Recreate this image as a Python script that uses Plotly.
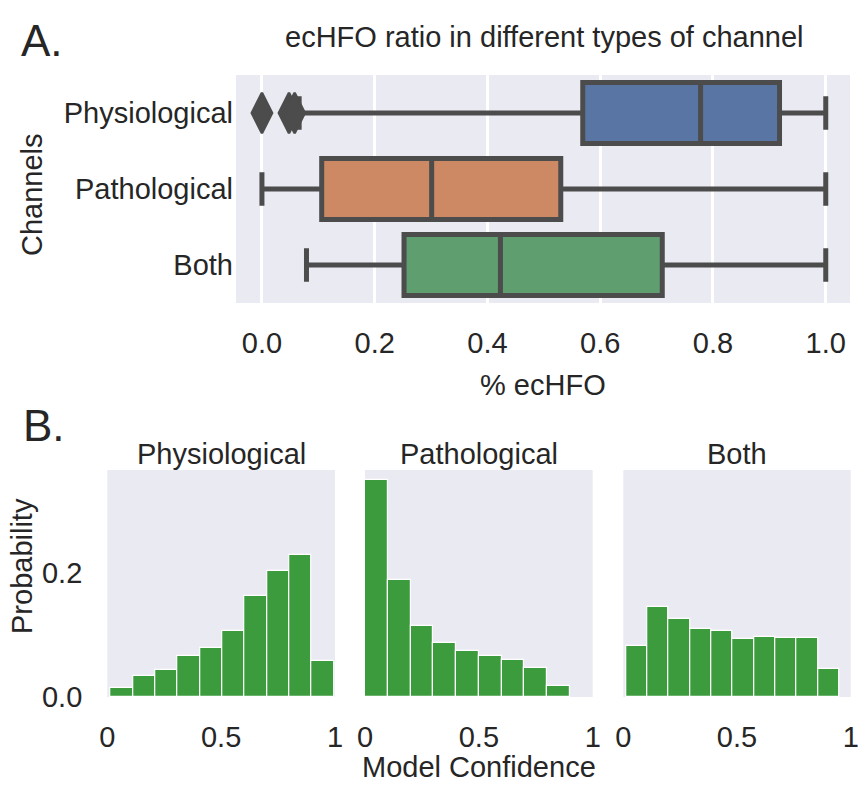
import plotly.graph_objects as go
import numpy as np

W, H = 862, 794
FONT = "Liberation Sans, Arial, sans-serif"
TXT = "#262626"
BG = "#eaeaf2"
EDGE = "#4c4c4c"
FS = 29

# ---- Panel A data: box statistics (% ecHFO) ----
channels = ["Physiological", "Pathological", "Both"]
box_colors = ["#5975a4", "#cc8963", "#5f9e6e"]
q1 = [0.569, 0.106, 0.252]
median = [0.778, 0.301, 0.423]
q3 = [0.918, 0.530, 0.710]
lowerfence = [0.066, 0.0, 0.079]
upperfence = [1.0, 1.0, 1.0]
physio_fliers = [0.0, 0.048, 0.058]

# ---- Panel B data: histogram probabilities (Model Confidence) ----
hist_titles = ["Physiological", "Pathological", "Both"]
hist_edges = [
    [0.015, 0.113, 0.211, 0.309, 0.407, 0.505, 0.603, 0.701, 0.799, 0.897, 0.995],
    [0.0, 0.1, 0.2, 0.3, 0.4, 0.5, 0.6, 0.7, 0.8, 0.9],
    [0.012, 0.1058, 0.1996, 0.2934, 0.3872, 0.481, 0.5748, 0.6686, 0.7624, 0.8562, 0.95],
]
hist_probs = [
    [0.0145, 0.0334, 0.0431, 0.0657, 0.0787, 0.107, 0.164, 0.204, 0.230, 0.058],
    [0.351, 0.1885, 0.1147, 0.0867, 0.0738, 0.0657, 0.0603, 0.0468, 0.0178],
    [0.0829, 0.1449, 0.1265, 0.1094, 0.1071, 0.0937, 0.0974, 0.0958, 0.0958, 0.0452],
]
hist_xticks = [0, 0.5, 1]
hist_xticklabels = ["0", "0.5", "1"]
hist_yticks = [0.0, 0.2]
box_xticks = [0.0, 0.2, 0.4, 0.6, 0.8, 1.0]


def px(x):
    return x / W


def py(y):
    return 1 - y / H


fig = go.Figure()

for i, ch in enumerate(channels):
    fig.add_trace(go.Box(
        y=[ch], q1=[q1[i]], median=[median[i]], q3=[q3[i]],
        lowerfence=[lowerfence[i]], upperfence=[upperfence[i]],
        orientation="h", fillcolor=box_colors[i],
        line=dict(color=EDGE, width=5), width=0.8, whiskerwidth=0.55,
        boxpoints=False, xaxis="x", yaxis="y", showlegend=False,
        hoverinfo="skip",
    ))

fig.add_trace(go.Scatter(
    x=physio_fliers, y=[channels[0]] * len(physio_fliers), mode="markers",
    marker=dict(symbol="diamond-tall", size=29, color=EDGE,
                line=dict(width=2.5, color=EDGE)),
    xaxis="x", yaxis="y", showlegend=False, hoverinfo="skip",
))

for k in range(3):
    e = np.array(hist_edges[k])
    centers = (e[:-1] + e[1:]) / 2
    widths = e[1:] - e[:-1]
    fig.add_trace(go.Bar(
        x=centers, y=hist_probs[k], width=widths,
        marker=dict(color="rgba(0,128,0,0.75)", line=dict(color="white", width=1.2)),
        xaxis="x" + str(k + 2), yaxis="y" + str(k + 2), showlegend=False,
        hoverinfo="skip",
    ))

layout = dict(
    width=W, height=H, margin=dict(l=0, r=0, t=0, b=0),
    paper_bgcolor="white", plot_bgcolor=BG,
    font=dict(family=FONT, color=TXT, size=FS),
    boxmode="overlay", bargap=0,
    xaxis=dict(domain=[px(236), px(850)], range=[-0.046, 1.043], tickvals=box_xticks,
               ticktext=["%.1f" % v for v in box_xticks],
               showgrid=True, gridcolor="white", gridwidth=3, zeroline=False,
               showline=False, ticks="", ticklabelstandoff=20, automargin=False,
               tickfont=dict(size=FS), anchor="y"),
    yaxis=dict(domain=[py(303), py(75)], type="category", categoryorder="array",
               categoryarray=channels, range=[2.5, -0.5], showgrid=False,
               zeroline=False, ticks="", tickfont=dict(size=FS), anchor="x",
               ticklabelstandoff=2, automargin=False),
)

xd = [(107.3, 335), (365, 592.7), (623.3, 850.7)]
for k in range(3):
    n = str(k + 2)
    layout["xaxis" + n] = dict(
        domain=[px(xd[k][0]), px(xd[k][1])], range=[0, 1], tickvals=hist_xticks,
        ticktext=hist_xticklabels, showgrid=False, zeroline=False, ticks="",
        ticklabelstandoff=20, tickfont=dict(size=FS), anchor="y" + n,
        automargin=False)
    layout["yaxis" + n] = dict(
        domain=[py(697), py(470)], range=[0, 0.367], tickvals=hist_yticks,
        ticktext=["%.1f" % v for v in hist_yticks], showgrid=False, zeroline=False,
        ticks="", showticklabels=(k == 0), ticklabelstandoff=24,
        tickfont=dict(size=FS), anchor="x" + n, automargin=False)

fig.update_layout(**layout)

ann = [
    dict(text="A.", x=px(42), y=py(40), size=44),
    dict(text="B.", x=px(44), y=py(425), size=44),
    dict(text="ecHFO ratio in different types of channel", x=px(544), y=py(37), size=FS),
    dict(text="% ecHFO", x=px(543), y=py(385), size=FS),
    dict(text="Model Confidence", x=px(479), y=py(767), size=FS),
    dict(text="Physiological", x=px(221), y=py(454), size=FS),
    dict(text="Pathological", x=px(479), y=py(454), size=FS),
    dict(text="Both", x=px(737), y=py(454), size=FS),
]
for a in ann:
    fig.add_annotation(text=a["text"], x=a["x"], y=a["y"], xref="paper", yref="paper",
                       showarrow=False, xanchor="center", yanchor="middle",
                       font=dict(size=a["size"], family=FONT, color=TXT))
fig.add_annotation(text="Channels", x=px(32), y=py(195), xref="paper", yref="paper",
                   showarrow=False, textangle=-90, xanchor="center", yanchor="middle",
                   font=dict(size=FS, family=FONT, color=TXT))
fig.add_annotation(text="Probability", x=px(22), y=py(566), xref="paper", yref="paper",
                   showarrow=False, textangle=-90, xanchor="center", yanchor="middle",
                   font=dict(size=FS, family=FONT, color=TXT))

fig.write_html("out.html", config={"displayModeBar": False},
               post_script="document.body.style.margin='0px';document.body.style.overflow='hidden';")
